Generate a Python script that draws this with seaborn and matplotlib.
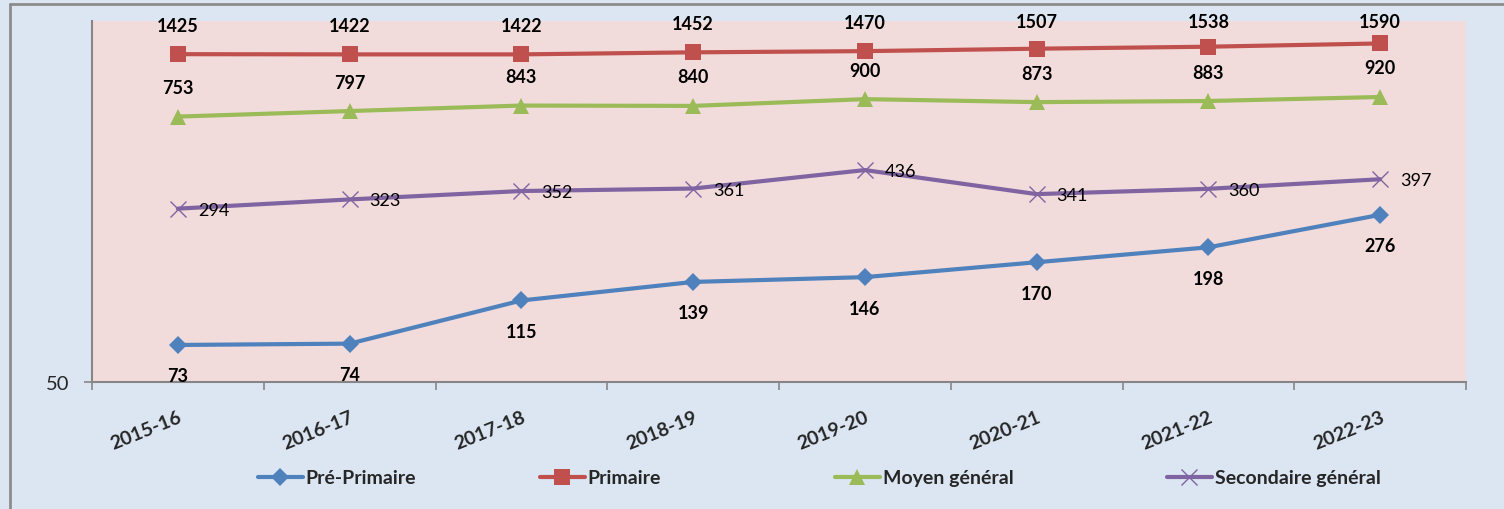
import numpy as np
import pandas as pd
import seaborn as sns
import matplotlib
matplotlib.use("Agg")
import matplotlib.pyplot as plt
from matplotlib.lines import Line2D
from matplotlib.ticker import FixedLocator, FixedFormatter, NullLocator, NullFormatter

years = ["2015-16", "2016-17", "2017-18", "2018-19", "2019-20", "2020-21", "2021-22", "2022-23"]
pre_primaire = [73, 74, 115, 139, 146, 170, 198, 276]
primaire = [1425, 1422, 1422, 1452, 1470, 1507, 1538, 1590]
moyen_general = [753, 797, 843, 840, 900, 873, 883, 920]
secondaire_general = [294, 323, 352, 361, 436, 341, 360, 397]
series_names = ["Pré-Primaire", "Primaire", "Moyen général", "Secondaire général"]

sns.set_theme(style="white")
plt.rcParams['font.family'] = ['Lato', 'DejaVu Sans']

W, H = 1504, 510
fig = plt.figure(figsize=(W / 100, H / 100), dpi=100, facecolor='#DCE6F2')
ax = fig.add_axes([92 / W, 1 - 383 / H, (1466 - 92) / W, (383 - 22) / H])
ax.set_facecolor('#F2DCDB')

pos = np.arange(len(years))
all_vals = [pre_primaire, primaire, moyen_general, secondaire_general]
df = pd.DataFrame({
    "pos": np.tile(pos, 4),
    "value": np.concatenate(all_vals),
    "series": np.repeat(series_names, len(years)),
})

colors = {"Pré-Primaire": "#4F81BD", "Primaire": "#C0504D",
          "Moyen général": "#9BBB59", "Secondaire général": "#8064A2"}
marker_kw = {
    "Pré-Primaire": dict(marker="D", markersize=9, markeredgewidth=0),
    "Primaire": dict(marker="s", markersize=11, markeredgewidth=0),
    "Moyen général": dict(marker="^", markersize=12, markeredgewidth=0),
    "Secondaire général": dict(marker="x", markersize=12, markeredgewidth=1.0),
}

for name in series_names:
    sub = df[df.series == name]
    sns.lineplot(data=sub, x="pos", y="value", ax=ax, color=colors[name],
                 linewidth=3, legend=False, markeredgecolor=colors[name],
                 **marker_kw[name])

ax.set_yscale('log')
ax.set_ylim(50, 2000)
ax.set_xlim(-0.5, len(years) - 0.5)
ax.yaxis.set_major_locator(FixedLocator([50]))
ax.yaxis.set_major_formatter(FixedFormatter(["50"]))
ax.yaxis.set_minor_locator(NullLocator())
ax.yaxis.set_minor_formatter(NullFormatter())

ax.set_xticks(np.arange(-0.5, len(years), 1.0))
ax.set_xticklabels([])
ax.set_xticks(pos, minor=True)
ax.set_xticklabels(years, minor=True, rotation=22, ha='right', rotation_mode='anchor',
                   fontsize=14, fontweight='bold')
ax.tick_params(axis='x', which='major', direction='out', length=6, color='#868686', width=1.2, bottom=True)
ax.tick_params(axis='x', which='minor', length=0, pad=19)
ax.tick_params(axis='y', which='major', direction='out', length=6, color='#868686', width=1.2,
               left=True, labelsize=14.5, pad=10)
ax.set_xlabel("")
ax.set_ylabel("")
for s in ["top", "right"]:
    ax.spines[s].set_visible(False)
for s in ["left", "bottom"]:
    ax.spines[s].set_color('#868686')
    ax.spines[s].set_linewidth(1.5)

# data labels
fig.canvas.draw()
for x, v in zip(pos, primaire):
    # marker position in pixels from the top of the figure
    py = H - ax.transData.transform((x, v))[1]
    centre = max(py - 29, 22.5)  # labels kept inside the chart area, as in the reference
    ax.annotate(str(v), (x, v), xytext=(0, py - centre), textcoords='offset pixels',
                ha='center', va='center', fontsize=13, fontweight='bold', color='black')
for x, v in zip(pos, moyen_general):
    ax.annotate(str(v), (x, v), xytext=(0, 29), textcoords='offset pixels',
                ha='center', va='center', fontsize=13, fontweight='bold', color='black')
for x, v in zip(pos, pre_primaire):
    ax.annotate(str(v), (x, v), xytext=(0, -31), textcoords='offset pixels',
                ha='center', va='center', fontsize=13, fontweight='bold', color='black')
for x, v in zip(pos, secondaire_general):
    ax.annotate(str(v), (x, v), xytext=(20, -1), textcoords='offset pixels',
                ha='left', va='center', fontsize=13, color='black')

# legend: one entry per position, like the reference
legend_x = [258, 540, 835, 1167]
for n, lx in zip(series_names, legend_x):
    h = Line2D([0], [0], color=colors[n], linewidth=3, markeredgecolor=colors[n], **marker_kw[n])
    fig.legend([h], [n], loc='center left', bbox_to_anchor=(lx / W, 1 - 479 / H),
               frameon=False, handlelength=2.3, handletextpad=0.15, borderpad=0,
               borderaxespad=0, prop={'size': 14, 'weight': 'bold'})

# outer border (left & top)
fig.add_artist(Line2D([10 / W, 10 / W], [0, 1 - 5 / H], transform=fig.transFigure,
                      color='#8C8C8C', linewidth=2))
fig.add_artist(Line2D([10 / W, 1], [1 - 5 / H, 1 - 5 / H], transform=fig.transFigure,
                      color='#8C8C8C', linewidth=2))

fig.savefig("out.png", dpi=100, facecolor=fig.get_facecolor())
